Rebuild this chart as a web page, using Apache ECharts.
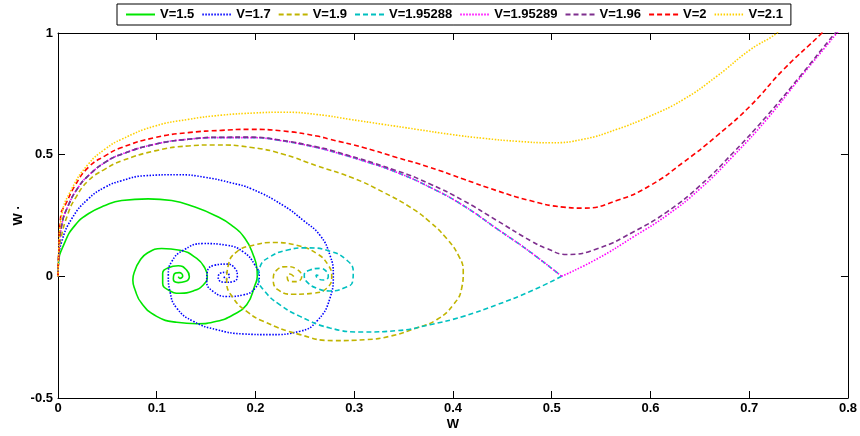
<!DOCTYPE html>
<html>
<head>
<meta charset="utf-8">
<script src="https://cdn.jsdelivr.net/npm/echarts@6/dist/echarts.min.js"></script>
<style>
  html, body { margin: 0; padding: 0; background: #fff; }
  #chart { width: 860px; height: 436px; }
</style>
</head>
<body>
<div id="chart"></div>
<script>
// Phase-plane trajectories (W, W') for several values of V.
const seriesNames = ['V=1.5', 'V=1.7', 'V=1.9', 'V=1.95288', 'V=1.95289', 'V=1.96', 'V=2', 'V=2.1'];
const xTicks = [0, 0.1, 0.2, 0.3, 0.4, 0.5, 0.6, 0.7, 0.8];
const yTicks = [-0.5, 0, 0.5, 1];

// V = 1.5 : spirals into the focus near W = 0.122
const v15 = [[0,0],[0.0003,0.046],[0.0071,0.1416],[0.0172,0.2094],[0.0307,0.2571],[0.0476,0.291],[0.0645,0.3114],[0.0914,0.3184],[0.1151,0.3114],[0.1387,0.2845],[0.159,0.2502],[0.1759,0.2094],[0.1894,0.1551],[0.1978,0.0869],[0.2015,0.03],[0.2018,0],[0.1995,-0.0355],[0.1911,-0.1171],[0.1775,-0.158],[0.1607,-0.1849],[0.1405,-0.1947],[0.1202,-0.189],[0.0999,-0.1645],[0.0845,-0.11],[0.078,-0.055],[0.0758,-0.015],[0.078,0.025],[0.0825,0.062],[0.0898,0.0939],[0.105,0.1143],[0.1235,0.1073],[0.1405,0.0735],[0.1489,0.0327],[0.1512,-0.0012],[0.1471,-0.0355],[0.137,-0.06],[0.1235,-0.0694],[0.1117,-0.0559],[0.106,-0.0286],[0.106,0.0122],[0.1117,0.0355],[0.1218,0.0437],[0.1303,0.0257],[0.133,-0.0012],[0.1286,-0.0216],[0.1218,-0.0257],[0.1168,-0.011],[0.1175,0.0082],[0.1228,0.0151],[0.1263,0.0012],[0.1235,-0.0082],[0.1218,-0.0012]];

// V = 1.7
const v17 = [[0,0],[0.0005,0.06],[0.0037,0.1416],[0.0139,0.2367],[0.0307,0.3184],[0.0476,0.3661],[0.0645,0.3931],[0.0881,0.4135],[0.1218,0.4176],[0.1489,0.4069],[0.1759,0.3837],[0.1962,0.3592],[0.2282,0.291],[0.2484,0.2298],[0.2653,0.1686],[0.2754,0.0869],[0.2788,0.0053],[0.2754,-0.0898],[0.262,-0.1849],[0.2451,-0.2257],[0.2147,-0.2396],[0.1876,-0.2367],[0.1607,-0.2192],[0.137,-0.1849],[0.1202,-0.1306],[0.1134,-0.0624],[0.1117,0.0053],[0.1151,0.06],[0.1269,0.1073],[0.1471,0.1347],[0.1708,0.1278],[0.1876,0.1008],[0.1995,0.0461],[0.2038,-0.0012],[0.1995,-0.049],[0.1876,-0.0763],[0.1708,-0.0829],[0.1573,-0.0624],[0.1506,-0.0216],[0.1512,0.0192],[0.159,0.0461],[0.1708,0.0502],[0.1792,0.0327],[0.1816,-0.0012],[0.1775,-0.0216],[0.1691,-0.0245],[0.1623,-0.0082],[0.1641,0.0122],[0.1701,0.0163],[0.1735,-0.0012],[0.1701,-0.011],[0.1681,-0.0012]];

// V = 1.9
const v19 = [[0,0],[0.0006,0.07],[0.003,0.155],[0.0101,0.257],[0.0172,0.3184],[0.0307,0.393],[0.0476,0.4408],[0.0645,0.4747],[0.0982,0.5155],[0.1319,0.5359],[0.159,0.54],[0.1962,0.5294],[0.2282,0.502],[0.262,0.4543],[0.2987,0.4041],[0.3294,0.3457],[0.3565,0.2845],[0.3767,0.2233],[0.3936,0.1551],[0.4054,0.0869],[0.4104,0.0192],[0.4088,-0.049],[0.4003,-0.1171],[0.3835,-0.1784],[0.3632,-0.2122],[0.3362,-0.2461],[0.3126,-0.26],[0.2788,-0.2641],[0.2451,-0.2396],[0.2079,-0.1849],[0.1911,-0.1441],[0.1775,-0.0898],[0.1708,-0.0216],[0.1725,0.0461],[0.181,0.1008],[0.1978,0.1278],[0.218,0.1388],[0.2417,0.1278],[0.262,0.0939],[0.2737,0.0461],[0.2772,-0.0012],[0.2721,-0.049],[0.2585,-0.0694],[0.2383,-0.0735],[0.2231,-0.0559],[0.218,-0.0151],[0.2215,0.0257],[0.2316,0.0396],[0.2417,0.0298],[0.2468,-0.0012],[0.2417,-0.0216],[0.2349,-0.0216],[0.2322,-0.0053],[0.2349,0.0094],[0.239,-0.0012]];

// Common upper branch of V = 1.95288 and V = 1.95289, running into the saddle at W ≈ 0.51
const saddleApproach = [[0,0],[0.0008,0.09],[0.0037,0.2094],[0.0104,0.291],[0.0206,0.3661],[0.0307,0.4135],[0.0476,0.4682],[0.0645,0.502],[0.0982,0.5429],[0.1319,0.5633],[0.1658,0.5702],[0.1944,0.5702],[0.2282,0.5563],[0.262,0.5294],[0.2754,0.5155],[0.3092,0.4747],[0.343,0.4273],[0.3767,0.3661],[0.4104,0.291],[0.4443,0.1959],[0.478,0.1008],[0.51,0]];

// V = 1.95288 : leaves the saddle downward and spirals back
const v195288Return = [[0.51,0],[0.478,-0.0624],[0.4443,-0.1171],[0.4104,-0.1645],[0.3767,-0.1988],[0.343,-0.2233],[0.3092,-0.2286],[0.2754,-0.2122],[0.2451,-0.1645],[0.2248,-0.1171],[0.2096,-0.0624],[0.2028,-0.0082],[0.2046,0.0396],[0.2147,0.0804],[0.2316,0.1073],[0.2518,0.1171],[0.2754,0.1033],[0.2924,0.0665],[0.299,0.0192],[0.2984,-0.0216],[0.2889,-0.049],[0.2754,-0.06],[0.262,-0.049],[0.2518,-0.0216],[0.2494,0.0053],[0.2552,0.0257],[0.2653,0.0327],[0.2721,0.0192],[0.2737,-0.0012],[0.2687,-0.0151],[0.263,-0.0082],[0.2613,0.0053],[0.2646,0.0029]];

// V = 1.95289 : leaves the saddle upward
const v195289Escape = [[0.51,0],[0.5468,0.0735],[0.5826,0.162],[0.6164,0.2502],[0.6501,0.3592],[0.6839,0.4951],[0.7177,0.6449],[0.7514,0.8151],[0.7886,0.9988],[0.795,1.03]];

// V = 1.96
const v196 = [[0,0],[0.0008,0.09],[0.0037,0.2094],[0.0104,0.291],[0.0206,0.3661],[0.0307,0.4135],[0.0476,0.4682],[0.0645,0.502],[0.0982,0.5429],[0.1319,0.5633],[0.1658,0.5718],[0.1944,0.572],[0.2282,0.558],[0.262,0.532],[0.2754,0.5196],[0.343,0.4339],[0.3767,0.3796],[0.4104,0.3114],[0.4443,0.2298],[0.48,0.143],[0.4949,0.1143],[0.5151,0.0898],[0.5468,0.1143],[0.5826,0.1824],[0.6164,0.2641],[0.6501,0.3727],[0.6839,0.509],[0.7177,0.6584],[0.7514,0.8216],[0.7868,0.9988],[0.794,1.03]];

// V = 2
const v2 = [[0,0],[0.0008,0.1],[0.003,0.257],[0.0071,0.291],[0.0172,0.3727],[0.0307,0.4478],[0.0476,0.4951],[0.0645,0.5294],[0.0982,0.5702],[0.1319,0.5906],[0.1658,0.6],[0.1944,0.6041],[0.2282,0.5971],[0.262,0.5767],[0.2754,0.5633],[0.3092,0.5294],[0.343,0.4886],[0.3767,0.4478],[0.4104,0.4],[0.4443,0.3522],[0.478,0.3114],[0.5117,0.2845],[0.532,0.2804],[0.5658,0.3114],[0.5995,0.3727],[0.6332,0.4682],[0.667,0.5767],[0.7008,0.6992],[0.7345,0.849],[0.7734,0.9988],[0.78,1.03]];

// V = 2.1
const v21 = [[0,0],[0.0008,0.11],[0.0037,0.2502],[0.0139,0.3592],[0.0307,0.4612],[0.0476,0.5224],[0.0645,0.5633],[0.0982,0.6176],[0.1319,0.6449],[0.1658,0.6624],[0.1995,0.6714],[0.2282,0.6745],[0.262,0.6653],[0.2957,0.6449],[0.3294,0.6245],[0.3632,0.6041],[0.397,0.5837],[0.4307,0.5673],[0.4645,0.5551],[0.4982,0.549],[0.532,0.5633],[0.5658,0.6041],[0.5995,0.6584],[0.6332,0.7265],[0.667,0.8216],[0.7008,0.9306],[0.7278,0.9988],[0.734,1.03]];

// Each trajectory is drawn as one or more pieces; pieces of the same V share a name,
// so the saddle corner stays sharp while the legend shows a single entry.
const pieces = [
  { v: 0, data: v15 },
  { v: 1, data: v17 },
  { v: 2, data: v19 },
  { v: 3, data: saddleApproach },
  { v: 3, data: v195288Return },
  { v: 4, data: saddleApproach },
  { v: 4, data: v195289Escape },
  { v: 5, data: v196 },
  { v: 6, data: v2 },
  { v: 7, data: v21 }
];

const styles = [
  { color: '#00e600', type: 'solid', width: 1.6 },
  { color: '#0000ff', type: [1.5, 1.5], width: 1.6 },
  { color: '#c0b400', type: [5, 3], width: 1.6 },
  { color: '#00c0c0', type: [5, 3], width: 1.6 },
  { color: '#ff00ff', type: [1.5, 1.5], width: 1.6 },
  { color: '#7e2f8e', type: [5, 3], width: 1.6 },
  { color: '#ff0000', type: [5, 3], width: 1.6 },
  { color: '#ffd000', type: [1.5, 1.5], width: 1.6 }
];

const FONT = 'Liberation Sans, Arial, sans-serif';
const axisText = { color: '#000', fontWeight: 'bold', fontSize: 13, fontFamily: FONT };
const frameLine = { show: true, onZero: false, lineStyle: { color: '#000', width: 1 } };
const inTick = { show: true, inside: true, length: 7, lineStyle: { color: '#000', width: 1 } };

const chart = echarts.init(document.getElementById('chart'), null, { renderer: 'canvas' });

chart.setOption({
  animation: false,
  backgroundColor: '#fff',
  grid: { left: 58, right: 12, top: 33, bottom: 35, containLabel: false },
  legend: {
    data: seriesNames,
    left: 117,
    top: 4,
    padding: [4, 8],
    itemGap: 7,
    itemWidth: 29,
    itemHeight: 14,
    borderColor: '#000',
    borderWidth: 1,
    backgroundColor: '#fff',
    itemStyle: { opacity: 0 },
    textStyle: { color: '#000', fontWeight: 'bold', fontSize: 13, fontFamily: FONT }
  },
  xAxis: [
    {
      type: 'value', min: xTicks[0], max: xTicks[xTicks.length - 1], interval: 0.1,
      position: 'bottom',
      name: 'W', nameLocation: 'middle', nameGap: 20, nameTextStyle: axisText,
      nameMoveOverlap: false,
      axisLine: frameLine, axisTick: inTick, splitLine: { show: false },
      axisLabel: Object.assign({ margin: 4 }, axisText)
    },
    {
      type: 'value', min: xTicks[0], max: xTicks[xTicks.length - 1], interval: 0.1,
      position: 'top',
      axisLine: frameLine, axisTick: inTick, splitLine: { show: false },
      axisLabel: { show: false }
    }
  ],
  yAxis: [
    {
      type: 'value', min: yTicks[0], max: yTicks[yTicks.length - 1], interval: 0.5,
      position: 'left',
      name: 'W ·', nameLocation: 'middle', nameGap: 33, nameRotate: 90, nameTextStyle: axisText,
      nameMoveOverlap: false,
      axisLine: frameLine, axisTick: inTick, splitLine: { show: false },
      axisLabel: Object.assign({ margin: 5 }, axisText)
    },
    {
      type: 'value', min: yTicks[0], max: yTicks[yTicks.length - 1], interval: 0.5,
      position: 'right',
      axisLine: frameLine, axisTick: inTick, splitLine: { show: false },
      axisLabel: { show: false }
    }
  ],
  series: pieces.map(p => ({
    name: seriesNames[p.v],
    type: 'line',
    xAxisIndex: 0,
    yAxisIndex: 0,
    data: p.data,
    smooth: 0.5,
    symbol: 'none',
    clip: true,
    lineStyle: styles[p.v],
    itemStyle: { color: styles[p.v].color }
  }))
});
</script>
</body>
</html>
